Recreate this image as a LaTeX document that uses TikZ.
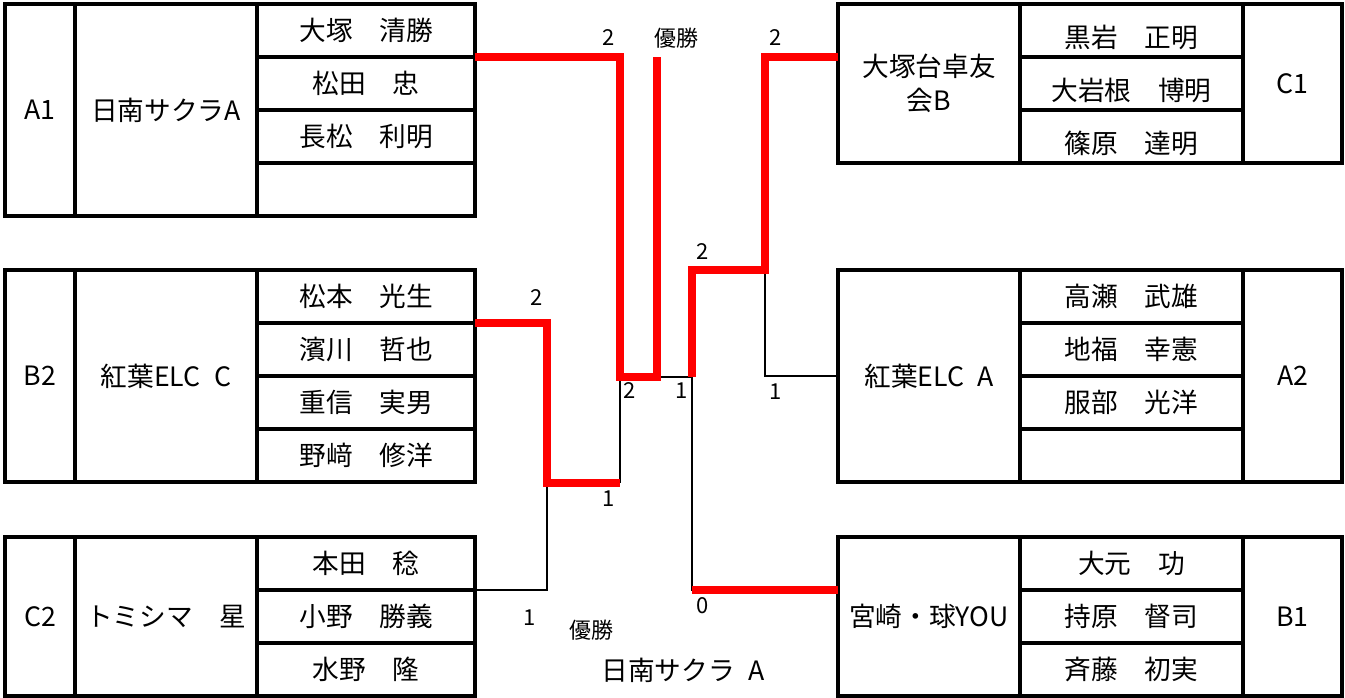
\documentclass[tikz,border=0pt]{standalone}
\usepackage{fontspec}
\setmainfont{Noto Sans CJK JP}
\usetikzlibrary{positioning}
\newcommand{\lowtext}[1]{\raisebox{-6pt}[17pt][3pt]{#1}}

\begin{document}
\begin{tikzpicture}[x=0.75pt,y=-0.75pt]
	\tikzstyle{cell} = [draw,line width=2.4pt,inner sep=0pt,outer sep=0pt,anchor=north west,align=center,font=\fontsize{20}{25}\selectfont]
	\tikzstyle{idx} = [cell,minimum width=52.5pt]
	\tikzstyle{idxr} = [cell,minimum width=74.25pt]
	\tikzstyle{team} = [cell,minimum width=136.5pt]
	\tikzstyle{mem} = [cell,minimum width=163.5pt,minimum height=39.75pt]
	\tikzstyle{memr} = [cell,minimum width=167.25pt,minimum height=39.75pt]
	\tikzstyle{four} = [minimum height=159pt]
	\tikzstyle{three} = [minimum height=119.25pt]
	\tikzstyle{score} = [font=\fontsize{16.5}{18}\selectfont,inner sep=0pt]
	\tikzstyle{champ} = [font=\fontsize{20}{25}\selectfont,inner sep=0pt]
	\tikzstyle{link} = [line width=2.2pt]
	\tikzstyle{win} = [line width=6pt,red]

	\useasboundingbox (0,0) rectangle (1345,697);

	% left teams
	\node[idx,four] at (5,4) (a1i) {A1};
	\node[team,four] at (a1i.north east) (a1t) {日南サクラA};
	\node[mem] at (a1t.north east) (a1m1) {大塚　清勝};
	\node[mem,below=0pt of a1m1] (a1m2) {松田　忠};
	\node[mem,below=0pt of a1m2] (a1m3) {長松　利明};
	\node[mem,below=0pt of a1m3] (a1m4) {};

	\node[idx,four] at (5,270) (b2i) {B2};
	\node[team,four] at (b2i.north east) (b2t) {紅葉ELC\enspace C};
	\node[mem] at (b2t.north east) (b2m1) {松本　光生};
	\node[mem,below=0pt of b2m1] (b2m2) {濱川　哲也};
	\node[mem,below=0pt of b2m2] (b2m3) {重信　実男};
	\node[mem,below=0pt of b2m3] (b2m4) {野﨑　修洋};

	\node[idx,three] at (5,537) (c2i) {C2};
	\node[team,three] at (c2i.north east) (c2t) {トミシマ　星};
	\node[mem] at (c2t.north east) (c2m1) {本田　稔};
	\node[mem,below=0pt of c2m1] (c2m2) {小野　勝義};
	\node[mem,below=0pt of c2m2] (c2m3) {水野　隆};

	% right teams
	\node[team,three] at (838,4) (c1t) {大塚台卓友\\会B};
	\node[memr] at (c1t.north east) (c1m1) {\lowtext{黒岩　正明}};
	\node[memr,below=0pt of c1m1] (c1m2) {\lowtext{大岩根　博明}};
	\node[memr,below=0pt of c1m2] (c1m3) {\lowtext{篠原　達明}};
	\node[idxr,three] at (c1m1.north east) (c1i) {C1};

	\node[team,four] at (838,270) (a2t) {紅葉ELC\enspace A};
	\node[memr] at (a2t.north east) (a2m1) {高瀬　武雄};
	\node[memr,below=0pt of a2m1] (a2m2) {地福　幸憲};
	\node[memr,below=0pt of a2m2] (a2m3) {服部　光洋};
	\node[memr,below=0pt of a2m3] (a2m4) {};
	\node[idxr,four] at (a2m1.north east) (a2i) {A2};

	\node[team,three] at (838,537) (b1t) {宮崎・球YOU};
	\node[memr] at (b1t.north east) (b1m1) {大元　功};
	\node[memr,below=0pt of b1m1] (b1m2) {持原　督司};
	\node[memr,below=0pt of b1m2] (b1m3) {斉藤　初実};
	\node[idxr,three] at (b1m1.north east) (b1i) {B1};

	% bracket joints
	\coordinate (qa) at (547,483);
	\coordinate (sl) at (620,377);
	\coordinate (fb) at (657,377);
	\coordinate (fin) at (657,57);
	\coordinate (sr) at (692,377);
	\coordinate (qr) at (765,270);

	\begin{scope}[link]
		\draw (c2m1.south east) -| (qa);
		\draw (qa -| sl) -- (sl);
		\draw (fb) -- (sr);
		\draw (a2t.west) -| (qr);
		\draw (b1t.west |- b1m1.south) -| (sr);
	\end{scope}

	\begin{scope}[win]
		\draw (a1m1.south east) -| (sl) -- (fb) -- (fin);
		\draw (b2m1.south east) -| (qa) -- (qa -| sl);
		\draw (c1t.west |- c1m1.south) -| (qr) -- (qr -| sr) -- (sr);
		\draw (b1t.west |- b1m1.south) -- (b1m1.south -| sr);
	\end{scope}

	% scores
	\node[score] at (609,38) (a1fin) {2};
	\node[score] at (676,38) (wintop) {優勝};
	\node[score] at (776,38) (c1qf) {2};
	\node[score] at (703,252) (c1sf) {2};
	\node[score] at (537,298) (b2qf) {2};
	\node[score] at (630,391) (a1sf) {2};
	\node[score] at (682,391) (c1fin) {1};
	\node[score] at (776,392) (a2qf) {1};
	\node[score] at (609,499) (b2sf) {1};
	\node[score] at (530,618) (c2qf) {1};
	\node[score] at (703,606) (b1sf) {0};
	\node[score] at (591,630) (winbot) {優勝};
	\node[champ] at (683,670) (winner) {日南サクラ\enspace A};
\end{tikzpicture}
\end{document}
